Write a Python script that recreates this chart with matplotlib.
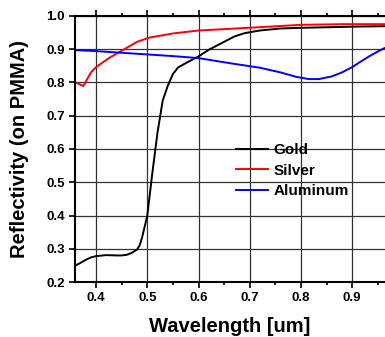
import matplotlib
matplotlib.use("Agg")
import matplotlib.pyplot as plt
from matplotlib.ticker import MultipleLocator

plt.rcParams['font.family'] = ['Liberation Sans', 'DejaVu Sans']
plt.rcParams['font.weight'] = 'bold'

gold_x = [0.36, 0.37, 0.38, 0.39, 0.40, 0.42, 0.44, 0.45, 0.46, 0.47, 0.48, 0.485, 0.49, 0.50, 0.51, 0.52, 0.53, 0.54, 0.55, 0.56, 0.58, 0.60, 0.62, 0.65, 0.67, 0.69, 0.72, 0.76, 0.80, 0.86, 0.92, 0.97]
gold_y = [0.25, 0.258, 0.267, 0.274, 0.278, 0.281, 0.280, 0.280, 0.282, 0.288, 0.298, 0.31, 0.335, 0.40, 0.53, 0.65, 0.745, 0.79, 0.825, 0.845, 0.862, 0.878, 0.898, 0.922, 0.938, 0.948, 0.956, 0.962, 0.964, 0.966, 0.968, 0.969]

silver_x = [0.36, 0.375, 0.39, 0.40, 0.425, 0.45, 0.48, 0.505, 0.55, 0.60, 0.65, 0.72, 0.80, 0.88, 0.97]
silver_y = [0.80, 0.789, 0.83, 0.846, 0.873, 0.895, 0.922, 0.935, 0.947, 0.956, 0.960, 0.966, 0.973, 0.975, 0.975]

alum_x = [0.36, 0.40, 0.47, 0.55, 0.60, 0.66, 0.72, 0.76, 0.79, 0.815, 0.835, 0.86, 0.88, 0.90, 0.915, 0.935, 0.955, 0.97]
alum_y = [0.897, 0.894, 0.887, 0.879, 0.873, 0.858, 0.844, 0.830, 0.817, 0.810, 0.810, 0.818, 0.830, 0.846, 0.861, 0.88, 0.897, 0.908]

fig = plt.figure(figsize=(3.85, 3.37), dpi=100)
ax = fig.add_axes([0.195, 0.163, 0.805, 0.79])

ax.plot(gold_x, gold_y, color='black', lw=1.4, label='Gold')
ax.plot(silver_x, silver_y, color='#ff0000', lw=1.4, label='Silver')
ax.plot(alum_x, alum_y, color='#0000ff', lw=1.4, label='Aluminum')

ax.set_xlim(0.359, 0.964)
ax.set_ylim(0.2, 1.0)
ax.xaxis.set_major_locator(MultipleLocator(0.1))
ax.xaxis.set_minor_locator(MultipleLocator(0.05))
ax.yaxis.set_major_locator(MultipleLocator(0.1))
ax.grid(True, which='major', color='#333333', lw=0.9)
ax.tick_params(which='both', direction='out', top=True, labelsize=9.5, width=1.2)
ax.tick_params(which='major', length=4)
ax.tick_params(which='minor', length=2.5)
ax.spines['right'].set_visible(False)
for s in ['left', 'bottom', 'top']:
    ax.spines[s].set_linewidth(1.5)
for lab in ax.get_xticklabels() + ax.get_yticklabels():
    lab.set_fontweight('bold')

ax.set_xlabel('Wavelength [um]', fontsize=14.5, fontweight='bold', labelpad=9)
ax.set_ylabel('Reflectivity (on PMMA)', fontsize=14.5, fontweight='bold', labelpad=12)

leg = ax.legend(loc='upper left', bbox_to_anchor=(0.5, 0.545), frameon=False,
                prop={'weight': 'bold', 'size': 11}, handlelength=2.1,
                handletextpad=0.35, labelspacing=0.42, borderaxespad=0)

fig.savefig('out.png', dpi=100)
